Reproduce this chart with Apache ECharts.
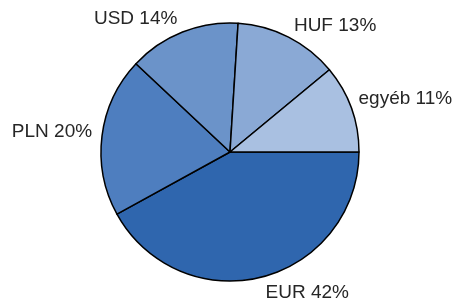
<!DOCTYPE html>
<html>
<head>
<meta charset="utf-8">
<script src="https://cdn.jsdelivr.net/npm/echarts@6/dist/echarts.min.js"></script>
<style>
  html, body { margin: 0; padding: 0; background: #fff; }
  #main { width: 457px; height: 302px; }
</style>
</head>
<body>
<div id="main"></div>
<script>
// adatok
var categories = ["EUR", "PLN", "USD", "HUF", "egyéb"];
var values = [42, 20, 14, 13, 11];
var colors = ["#2f66ae", "#4e7ebf", "#6b93c9", "#8aa9d5", "#a9c0e1"];
// címkék finomhangolása (dx, dy)
var labelNudge = [[-5, 2], [9, -2], [5, 0], [-6, 1], [-11, -5]];

var chart = echarts.init(document.getElementById("main"));

var pieData = [];
for (var i = 0; i < categories.length; i++) {
  pieData.push({
    name: categories[i],
    value: values[i],
    itemStyle: { color: colors[i] }
  });
}

var option = {
  animation: false,
  series: [
    {
      type: "pie",
      center: [230, 152],
      radius: 129,
      startAngle: 0,
      clockwise: true,
      avoidLabelOverlap: false,
      data: pieData,
      itemStyle: {
        borderColor: "#000",
        borderWidth: 1.5
      },
      label: {
        show: true,
        position: "outside",
        formatter: "{b} {c}%",
        fontFamily: "Liberation Sans, Arial, sans-serif",
        fontSize: 19,
        color: "#262626"
      },
      labelLine: {
        show: false,
        length: 14,
        length2: 0
      },
      labelLayout: function (params) {
        var n = labelNudge[params.dataIndex];
        return { dx: n[0], dy: n[1] };
      }
    }
  ]
};

chart.setOption(option);
</script>
</body>
</html>
